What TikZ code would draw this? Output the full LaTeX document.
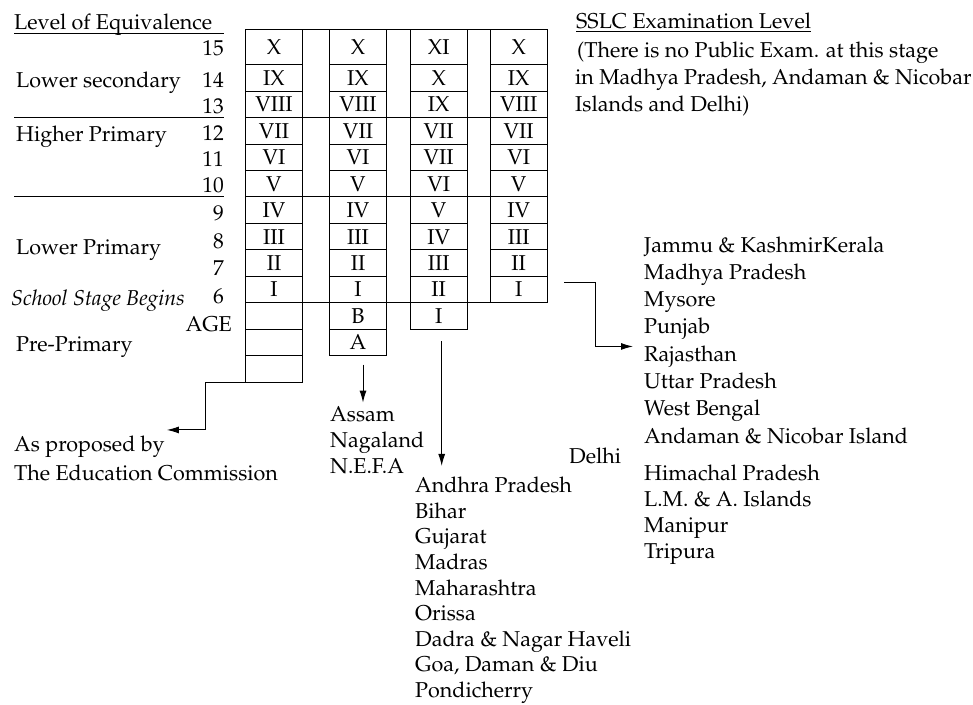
\documentclass[tikz,border=0pt]{standalone}
\usepackage[T1]{fontenc}
\usepackage{mathpazo}
\usetikzlibrary{positioning, arrows.meta}
\newcommand\figfont{\fontsize{21.5}{26}\selectfont}
\tikzset{
	every node/.append style={font=\figfont},
	cell/.style={draw, line width=1pt, inner sep=0pt, outer sep=0pt, minimum width=57.4pt},
	txt/.style={inner sep=0pt, anchor=base west},
	num/.style={inner sep=0pt, anchor=base east},
	rule/.style={line width=1pt},
	arr/.style={line width=1pt, -{Latex[length=12pt,width=7pt]}},
}
\begin{document}
\begin{tikzpicture}[x=1pt, y=-1pt]
	\useasboundingbox (0,0) rectangle (973,704);
	% the four columns of classes
	\foreach \c/\xc/\items in {
		1/274.0/{X,IX,VIII,VII,VI,V,IV,III,II,I,{},{},{}},
		2/358.0/{X,IX,VIII,VII,VI,V,IV,III,II,I,B,A},
		3/438.7/{XI,X,IX,VII,VII,VI,V,IV,III,II,I},
		4/518.7/{X,IX,VIII,VII,VI,V,IV,III,II,I}}{
		\foreach \lab [count=\r] in \items {
			\pgfmathsetmacro\hh{\r==1 ? 35.4 : 26.45}
			\pgfmathsetmacro\yc{\r==1 ? 47 : 64.7+(\r-1.5)*26.45}
			\node[cell, minimum height=\hh pt] (c\c r\r) at (\xc,\yc) {\lab};
		}
	}
	\foreach \r in {1,4,7,11}
		\draw[rule] (c1r\r.north west) -- (c1r\r.north west -| c4r1.east);
	
	% level of equivalence
	\node[txt] (lvl) at (14,29.3) {Level of Equivalence};
	\foreach \n/\yb in {15/55, 14/87.3, 13/113, 12/140, 11/166.7, 10/192.7, 9/220.7, 8/248.3, 7/275, 6/303.3}
		\node[num] (n\n) at (224,\yb) {\n};
	\node[num] (age) at (232,331.7) {AGE};
	\node[txt] (lsec) at (16,87.3) {Lower secondary};
	\node[txt] (hprim) at (16,141) {Higher Primary};
	\node[txt] (lprim) at (16,254) {Lower Primary};
	\node[txt, font=\figfont\itshape] (ssb) at (11,305) {School Stage Begins};
	\node[txt] (pprim) at (16,351) {Pre-Primary};
	\draw[rule] (lvl.west |- 0,33.3) -- (n15.east |- 0,33.3);
	\draw[rule] (lvl.west |- c1r4.north) -- (n15.east |- c1r4.north);
	\draw[rule] (lvl.west |- c1r7.north) -- (n15.east |- c1r7.north);
	
	% examination level note
	\node[txt] (sl1) at (576,28.3) {\underline{SSLC Examination Level}};
	\node[txt] (sl2) at (577,57) {(There is no Public Exam. at this stage};
	\node[txt] (sl3) at (575,84) {in Madhya Pradesh, Andaman \& Nicobar};
	\node[txt] (sl4) at (575,111.5) {Islands and Delhi)};
	
	% states
	\node[txt] (asp) at (14,451.7) {As proposed by};
	\node[txt] (edc) at (14,480) {The Education Commission};
	\foreach \s [count=\i] in {Assam, Nagaland, N.E.F.A}
		\node[txt] (ma\i) at (330,{421.7+(\i-1)*25.8}) {\s};
	\foreach \s [count=\i] in {Andhra Pradesh, Bihar, Gujarat, Madras, Maharashtra, Orissa, Dadra \& Nagar Haveli, {Goa, Daman \& Diu}, Pondicherry}
		\node[txt] (mb\i) at (415,{492.7+(\i-1)*25.6}) {\s};
	\node[txt] (delhi) at (569,463.3) {Delhi};
	\foreach \s [count=\i] in {Jammu \& KashmirKerala, Madhya Pradesh, Mysore, Punjab, Rajasthan, Uttar Pradesh, West Bengal, Andaman \& Nicobar Island}
		\node[txt] (ra\i) at (644,{252+(\i-1)*27.3}) {\s};
	\foreach \s [count=\i] in {Himachal Pradesh, L.M. \& A. Islands, Manipur, Tripura}
		\node[txt] (rb\i) at (644,{480+(\i-1)*26.1}) {\s};
	
	% arrows
	\coordinate[below=9pt of c2r12.south, xshift=5pt] (s2);
	\coordinate[below=12pt of c3r11.south, xshift=3pt] (s3);
	\coordinate[right=17pt of c4r10.east, yshift=7pt] (s4);
	\draw[arr] (c1r13.south west) -- ++(-40,0) |- ([shift={(2,-6)}]asp.north east);
	\draw[arr, shorten >=4pt] (s2) -- (s2 |- ma1.north);
	\draw[arr, shorten >=11pt] (s3) -- (s3 |- mb1.north);
	\draw[arr] (s4) -- ++(31,0) |- ([shift={(-11,-10)}]ra5.west);
\end{tikzpicture}
\end{document}
